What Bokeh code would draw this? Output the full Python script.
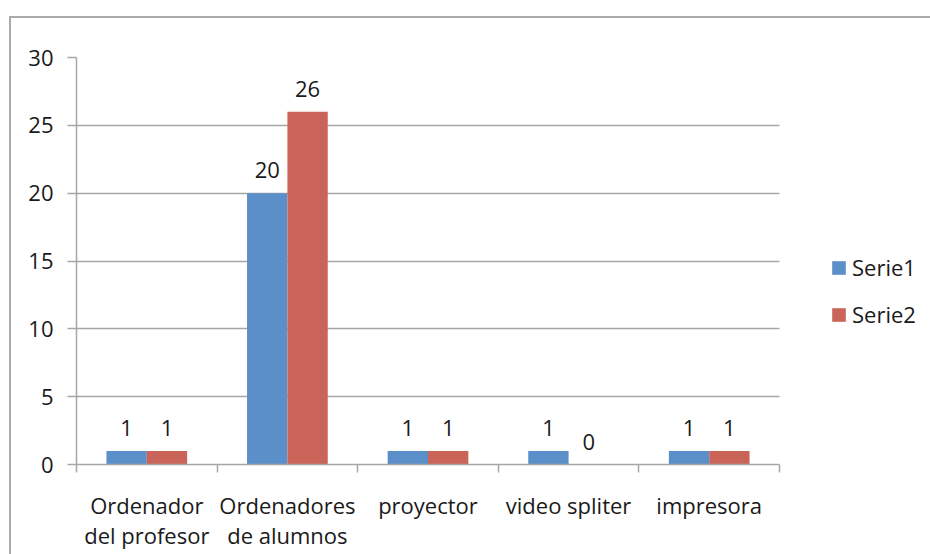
import numpy as np
from bokeh.plotting import figure
from bokeh.models import (ColumnDataSource, FixedTicker, Range1d, LabelSet,
                          Legend, LegendItem)
from bokeh.core.properties import value
from bokeh.embed import file_html
from bokeh.resources import INLINE

# ---- data ----
categories = ["Ordenador\ndel profesor", "Ordenadores\nde alumnos", "proyector",
              "video spliter", "impresora"]
serie1 = [1, 20, 1, 1, 1]
serie2 = [1, 26, 1, 0, 1]
series_names = ["Serie1", "Serie2"]
y_ticks = [0, 5, 10, 15, 20, 25, 30]

# ---- style ----
BLUE = "#5B8FC9"
RED = "#CB6458"
GRID = "#A6A6A6"
TEXT = "#1A1A1A"
FONT = "Open Sans"
FS = "22px"
BAR_W = 0.287

W, H = 930, 554
LEFT, TOP, BOTTOM = 76, 57, 90
PLOT_RIGHT = 779           # pixel where the category axis ends

n = len(categories)
idx = np.arange(n)
centers = idx + 0.5
# frame spans to the right edge so the legend can live inside it;
# the plot area itself (axis, grid) is bounded to [0, n]
x_end = n * (W - LEFT) / (PLOT_RIGHT - LEFT)

src = ColumnDataSource(dict(
    x1=centers - BAR_W / 2, x2=centers + BAR_W / 2,
    s1=serie1, s2=serie2,
    t1=[str(v) for v in serie1], t2=[str(v) for v in serie2],
))

p = figure(width=W, height=H, output_backend="svg", toolbar_location=None,
           x_range=Range1d(0, x_end), y_range=Range1d(y_ticks[0], y_ticks[-1]),
           min_border_left=LEFT, min_border_top=TOP, min_border_right=0,
           min_border_bottom=BOTTOM)
p.outline_line_color = None
p.background_fill_color = "white"
p.border_fill_color = None
# chart-area border (left and top edges visible, rest runs off the picture)
p.styles = {"box-shadow": "inset 9px 16px 0 0 #FFFFFF, inset 11px 18px 0 0 #ABABAB"}

r1 = p.vbar(x="x1", top="s1", width=BAR_W, source=src, fill_color=BLUE, line_color=None)
r2 = p.vbar(x="x2", top="s2", width=BAR_W, source=src, fill_color=RED, line_color=None)

for xcol, ycol, tcol in (("x1", "s1", "t1"), ("x2", "s2", "t2")):
    p.add_layout(LabelSet(x=xcol, y=ycol, text=tcol, source=src, text_align="center",
                          text_baseline="middle", y_offset=23, text_font=value(FONT),
                          text_font_size=value(FS), text_color=TEXT))

# x axis: labels at category centres, ticks at boundaries
xa = p.xaxis[0]
xa.bounds = (0, n)
xa.ticker = FixedTicker(ticks=list(centers), minor_ticks=list(range(n + 1)))
xa.major_label_overrides = {float(c): lab for c, lab in zip(centers, categories)}
xa.major_tick_line_color = None
xa.major_tick_out = 0
xa.major_tick_in = 0
xa.minor_tick_line_color = GRID
xa.minor_tick_line_width = 1.5
xa.minor_tick_out = 8
xa.minor_tick_in = 0
xa.axis_line_color = GRID
xa.axis_line_width = 1.5
xa.major_label_standoff = 17
xa.major_label_text_font = FONT
xa.major_label_text_font_size = FS
xa.major_label_text_line_height = 1.0
xa.major_label_text_color = TEXT

ya = p.yaxis[0]
ya.ticker = FixedTicker(ticks=y_ticks, minor_ticks=[])
ya.major_tick_line_color = GRID
ya.major_tick_line_width = 1.5
ya.major_tick_out = 9
ya.major_tick_in = 0
ya.axis_line_color = GRID
ya.axis_line_width = 1.5
ya.major_label_standoff = 14
ya.major_label_text_font = FONT
ya.major_label_text_font_size = FS
ya.major_label_text_color = TEXT

p.xgrid.grid_line_color = None
p.ygrid.ticker = FixedTicker(ticks=y_ticks)
p.ygrid.cross_bounds = (0, n)
p.ygrid.grid_line_color = GRID
p.ygrid.grid_line_width = 1.5

legend = Legend(items=[LegendItem(label=series_names[0], renderers=[r1]),
                       LegendItem(label=series_names[1], renderers=[r2])],
                location=(754, 135), glyph_width=17, glyph_height=17,
                label_standoff=5, label_height=17, spacing=17, padding=0, margin=0,
                label_text_font=FONT, label_text_font_size=FS, label_text_color=TEXT,
                border_line_color=None, background_fill_alpha=0)
p.add_layout(legend, "center")

open("out.html", "w").write(file_html(p, INLINE))
